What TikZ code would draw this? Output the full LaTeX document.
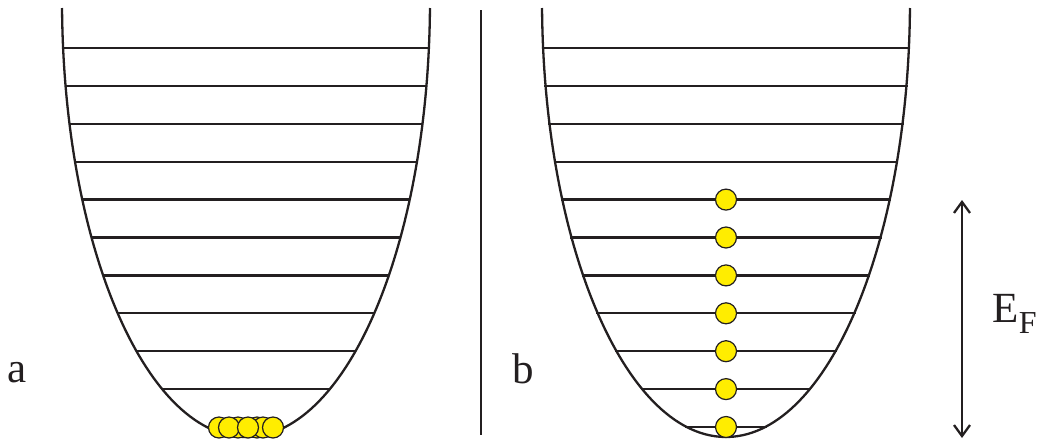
\documentclass[tikz,border=0pt]{standalone}
\usepackage{fontspec}
\setmainfont{Liberation Serif}
\newfontfamily\tnr{Liberation Serif}
\usetikzlibrary{arrows.meta}
\definecolor{ink}{RGB}{35,31,32}
\definecolor{elec}{RGB}{255,237,0}
\begin{document}
\begin{tikzpicture}[x=1pt,y=1pt,
  wall/.style={line width=2.3pt, draw=ink},
  level/.style={line width=2.3pt, draw=ink},
  electron/.style={circle, fill=elec, draw=ink, line width=1.2pt, minimum size=21pt, inner sep=0pt},
  lbl/.style={inner sep=0pt, anchor=base west, text=ink, font=\tnr\fontsize{43}{48}\selectfont}]
\useasboundingbox (0,0) rectangle (1041,-440);
% wells
\foreach \cx in {246,726}{
  \draw[wall] (\cx-183.97,-8) arc[start angle=181.05,end angle=358.95,x radius=184,y radius=437];
}
% levels, left
\foreach \i in {0,...,9}{
  \pgfmathsetmacro\yy{48+37.9*\i}
  \pgfmathsetmacro\ww{184*sqrt(1-(\yy/437)^2)}
  \draw[level] (246-\ww,-\yy) -- (246+\ww,-\yy);
}
% levels, right
\foreach \i in {0,...,10}{
  \pgfmathsetmacro\yy{48+37.9*\i}
  \pgfmathsetmacro\ww{184*sqrt(1-(\yy/437)^2)+1.5}
  \draw[level] (726-\ww,-\yy) -- (726+\ww,-\yy);
}
% divider
\coordinate (dtop) at (481,-10);
\coordinate (dbot) at (481,-435);
\draw[wall] (dtop) -- (dbot);
% electrons, left (condensed)
\foreach \n/\x in {1/238,2/257,3/263,4/219,5/229,6/248,7/273}{
  \node[electron] (g\n) at (\x,-427.5) {};
}
% electrons, right (Fermi filling)
\foreach \n in {0,...,6}{
  \pgfmathsetmacro\yy{199.6+37.9*\n}
  \node[electron] (e\n) at (726,-\yy) {};
}
% Fermi energy arrow
\coordinate (ftop) at (962,-200);
\coordinate (fbot) at (962,-438);
\draw[wall, {Straight Barb[length=11pt,width=16pt]}-{Straight Barb[length=11pt,width=16pt]}] (ftop) -- (fbot);
% labels
\node[lbl] (la) at (7.5,-382) {a};
\node[lbl] (lb) at (512,-383) {b};
\node[lbl] (lE) at (992,-322) {E};
\node[inner sep=0pt, anchor=base west, text=ink, font=\tnr\fontsize{32}{36}\selectfont] (lF) at ([yshift=-11pt]lE.base east) {F};
\end{tikzpicture}
\end{document}
